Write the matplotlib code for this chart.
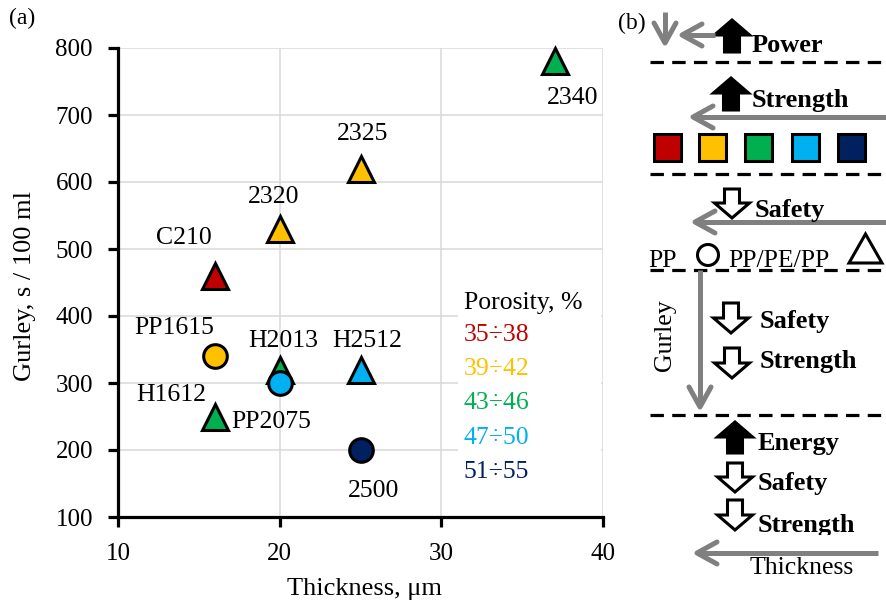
import math
import matplotlib
matplotlib.use('Agg')
import matplotlib.pyplot as plt
from matplotlib.patches import Polygon, Rectangle, Circle

plt.rcParams['font.family'] = ['Liberation Serif', 'DejaVu Serif']

# ---------------- data ----------------
names = ['C210', '2320', '2325', '2340', 'PP1615', 'H2013', 'PP2075', 'H1612', 'H2512', '2500']
thickness = [16, 20, 25, 37, 16, 20, 20, 16, 25, 25]
gurley = [460, 530, 620, 780, 340, 320, 300, 250, 320, 200]
porosity_class = [0, 1, 1, 2, 1, 2, 3, 2, 3, 4]
structure = ['PP/PE/PP', 'PP/PE/PP', 'PP/PE/PP', 'PP/PE/PP', 'PP', 'PP/PE/PP', 'PP', 'PP/PE/PP', 'PP/PE/PP', 'PP']
porosity_ranges = ['35÷38', '39÷42', '43÷46', '47÷50', '51÷55']
class_colors = ['#C00000', '#FFC000', '#00B050', '#00B0F0', '#002060']
x_ticks = [10, 20, 30, 40]
y_ticks = [100, 200, 300, 400, 500, 600, 700, 800]

# label offsets (layout only)
label_dx = [-1.9, -0.4, 0.1, 1.1, -2.5, 0.2, -0.5, -2.7, 0.4, 0.8]
label_dy = [56, 48, 52, -55, 42, 43, -58, 32, 43, -61]

W, H = 887, 602
fig = plt.figure(figsize=(W / 100, H / 100), dpi=100)

# ---------------- panel (a) ----------------
ax = fig.add_axes([118 / W, 1 - 517 / H, (603 - 118) / W, (517 - 48) / H])
ax.set_xlim(10, 40)
ax.set_ylim(100, 800)
ax.set_xticks(x_ticks)
ax.set_yticks(y_ticks)
ax.grid(True, color='#D9D9D9', lw=1.1, zorder=0)
ax.set_axisbelow(True)
for s in ['top', 'right']:
    ax.spines[s].set_visible(False)
for s in ['left', 'bottom']:
    ax.spines[s].set_linewidth(2.3)
    ax.spines[s].set_color('black')
    ax.spines[s].set_zorder(5)
ax.tick_params(direction='out', length=7, width=2.3, labelsize=18)
ax.tick_params(axis='y', pad=11)
ax.tick_params(axis='x', pad=12)

for i in range(len(names)):
    mk = '^' if structure[i] == 'PP/PE/PP' else 'o'
    ms = 19 if mk == '^' else 17
    ax.plot(thickness[i], gurley[i], marker=mk, ms=ms, mfc=class_colors[porosity_class[i]],
            mec='black', mew=2.2, ls='none', zorder=3 + i * 0.01, clip_on=False)
    ax.text(thickness[i] + label_dx[i], gurley[i] + label_dy[i], names[i], fontsize=18.5,
            ha='center', va='center', zorder=6)

# porosity legend box
ax.add_patch(Rectangle((31.0, 110), 8.85, 325, facecolor='white', edgecolor='none', zorder=2))
ax.text(31.4, 419, 'Porosity, %', fontsize=18.5, ha='left', va='center', zorder=6)
for k, lab in enumerate(porosity_ranges):
    ax.text(31.4, 371.6 - k * 51, lab, fontsize=18.5, color=class_colors[k], ha='left', va='center', zorder=6)

fig.text(25 / W, 1 - 286 / H, 'Gurley, s / 100 ml', rotation=90, fontsize=19, ha='center', va='center')
fig.text(365 / W, 1 - 589 / H, 'Thickness, μm', fontsize=19, ha='center', va='center')
fig.text(22 / W, 1 - 18 / H, '(a)', fontsize=17, ha='center', va='center')

# ---------------- panel (b) ----------------
axb = fig.add_axes([600 / W, 0, 287 / W, 1])
axb.set_xlim(600, 887)
axb.set_ylim(602, 0)
axb.axis('off')
GRAY = '#808080'


def gray_arrow(x0, y0, x1, y1, head=20, half=11):
    L = math.hypot(x1 - x0, y1 - y0)
    ux, uy = (x1 - x0) / L, (y1 - y0) / L
    px, py = -uy, ux
    axb.plot([x0, x1 - ux * 2], [y0, y1 - uy * 2], color=GRAY, lw=3.6, solid_capstyle='butt', clip_on=False)
    bx, by = x1 - ux * head, y1 - uy * head
    axb.plot([bx + px * half, x1, bx - px * half], [by + py * half, y1, by - py * half],
             color=GRAY, lw=3.6, solid_joinstyle='round', solid_capstyle='round', clip_on=False)


def block_arrow(cx, top, bottom, up=True, filled=True, Wd=35, stem=15, head=15):
    hw, sw = Wd / 2, stem / 2
    if up:
        pts = [(cx, top), (cx + hw, top + head), (cx + sw, top + head), (cx + sw, bottom),
               (cx - sw, bottom), (cx - sw, top + head), (cx - hw, top + head)]
    else:
        pts = [(cx, bottom), (cx + hw, bottom - head), (cx + sw, bottom - head), (cx + sw, top),
               (cx - sw, top), (cx - sw, bottom - head), (cx - hw, bottom - head)]
    axb.add_patch(Polygon(pts, closed=True, facecolor='black' if filled else 'white',
                          edgecolor='black', lw=2.2, joinstyle='miter'))


def dashed(y):
    axb.plot([650, 887], [y, y], color='black', lw=2.3, dashes=(4.2, 2.6), clip_on=False)


def label(x, y, s, bold=True, **kw):
    axb.text(x, y, s, fontsize=19, fontweight='bold' if bold else 'normal', ha='left', va='baseline', **kw)


axb.text(632, 23, '(b)', fontsize=17, ha='center', va='center')
gray_arrow(665, 12, 665, 43)
gray_arrow(715, 35, 682, 35)
block_arrow(732, 20, 52, up=True, filled=True)
label(752, 52, 'Power')
dashed(62)

block_arrow(731, 78, 110, up=True, filled=True)
label(752, 107, 'Strength')
gray_arrow(887, 117, 693, 117)
sq_x = [668, 713, 759, 806, 852]
for k in range(len(class_colors)):
    axb.add_patch(Rectangle((sq_x[k] - 13.5, 147 - 13.5), 27, 27, facecolor=class_colors[k],
                            edgecolor='black', lw=2.2))
dashed(174)

block_arrow(732, 189, 218, up=False, filled=False)
label(755, 217, 'Safety')
gray_arrow(887, 222, 695, 222)
axb.text(648, 267, 'PP', fontsize=18.5, ha='left', va='baseline')
axb.add_patch(Circle((708, 255), 10.5, facecolor='white', edgecolor='black', lw=2.2))
axb.text(728, 267, 'PP/PE/PP', fontsize=18.5, ha='left', va='baseline')
axb.add_patch(Polygon([(849, 263), (882, 263), (865.5, 234)], closed=True, facecolor='white',
                      edgecolor='black', lw=2.2, joinstyle='miter'))
dashed(270)

gray_arrow(700, 270, 700, 407)
axb.text(665, 335, 'Gurley', fontsize=18.5, rotation=90, ha='center', va='center')
block_arrow(731, 303, 333, up=False, filled=False)
label(760, 328, 'Safety')
block_arrow(732, 348, 378, up=False, filled=False)
label(760, 368, 'Strength')
dashed(415)

block_arrow(735, 422, 453, up=True, filled=True)
label(758, 450, 'Energy')
block_arrow(735, 463, 492, up=False, filled=False)
label(758, 490, 'Safety')
block_arrow(735, 500, 530, up=False, filled=False)
label(758, 532, 'Strength')
axb.add_patch(Rectangle((755, 535), 120, 12, facecolor='white', edgecolor='none', zorder=10))
gray_arrow(878, 553, 697, 553)
axb.text(802, 568, 'Thickness', fontsize=18.5, ha='center', va='center')

fig.savefig('out.png', dpi=100)
